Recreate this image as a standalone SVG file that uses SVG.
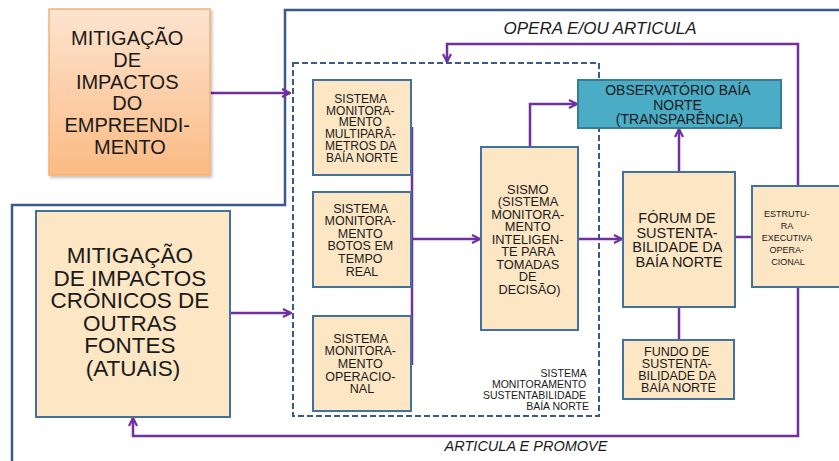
<svg xmlns="http://www.w3.org/2000/svg" width="839" height="461" viewBox="0 0 839 461">
  <defs>
    <linearGradient id="orangeFill" x1="0" y1="0" x2="0" y2="1">
      <stop offset="0" stop-color="#fde4cf"/>
      <stop offset="1" stop-color="#fbbb84"/>
    </linearGradient>
    <marker id="arrow" viewBox="0 0 10 10" refX="9" refY="5" markerWidth="10" markerHeight="10" markerUnits="userSpaceOnUse" orient="auto">
      <path d="M1,1 L9,5 L1,9" fill="none" stroke="#7030a0" stroke-width="2.2" stroke-linejoin="miter"/>
    </marker>
    <filter id="shadow" x="-10%" y="-10%" width="125%" height="125%">
      <feDropShadow dx="1.5" dy="2" stdDeviation="1.5" flood-color="#000" flood-opacity="0.25"/>
    </filter>
  </defs>
  <style>
    .box { fill: #fde6c4; stroke: #41719c; stroke-width: 2; }
    .obs { fill: #4bacc6; stroke: #357d93; stroke-width: 2; }
    .txt { font-family: "Liberation Sans", Arial, sans-serif; fill: #1a1a1a; text-anchor: middle; }
    .lbl { font-family: "Liberation Sans", Arial, sans-serif; fill: #1a1a1a; font-style: italic; text-anchor: middle; }
    .link { fill: none; stroke: #7030a0; stroke-width: 2.5; }
    .frame { fill: none; stroke: #3b5a8a; stroke-width: 2.5; }
  </style>

  <rect width="839" height="461" fill="#ffffff"/>

  <!-- outer frame line -->
  <path class="frame" d="M12,461 V205 H285 V10 H845"/>

  <!-- dashed group boundary -->
  <g id="sistema-monitoramento">
    <rect x="293" y="63" width="306" height="353" fill="none" stroke="#3b5a8a" stroke-width="2" stroke-dasharray="6,3"/>
    <text class="txt" font-size="10.5" style="text-anchor:end">
      <tspan x="589" y="377">SISTEMA</tspan>
      <tspan x="589" y="388">MONITORAMENTO</tspan>
      <tspan x="589" y="399">SUSTENTABILIDADE</tspan>
      <tspan x="589" y="410">BAÍA NORTE</tspan>
    </text>
  </g>

  <!-- connectors -->
  <g id="connectors">
    <path class="link" d="M210,93 H290" marker-end="url(#arrow)"/>
    <path class="link" d="M230,313 H291" marker-end="url(#arrow)"/>
    <path class="link" d="M798,187 V44 H447 V62" marker-end="url(#arrow)"/>
    <path class="link" d="M798,287 V436 H133 V418" marker-end="url(#arrow)"/>
    <path class="link" d="M412,127 V365"/>
    <path class="link" d="M412,239 H480" marker-end="url(#arrow)"/>
    <path class="link" d="M578,239 H622" marker-end="url(#arrow)"/>
    <path class="link" d="M530,147 V104 H577" marker-end="url(#arrow)"/>
    <path class="link" d="M679,172 V129" marker-end="url(#arrow)"/>
    <path class="link" d="M679,307 V340"/>
    <path class="link" d="M735,237 H752"/>
  </g>

  <g id="mitigacao-empreendimento">
    <rect x="49" y="9" width="161" height="166" fill="url(#orangeFill)" stroke="#f5b07a" stroke-width="1.5" filter="url(#shadow)"/>
    <text class="txt" font-size="20">
      <tspan x="130" y="45">MITIGAÇÃO</tspan>
      <tspan x="130" y="67">DE</tspan>
      <tspan x="130" y="89">IMPACTOS</tspan>
      <tspan x="130" y="110">DO</tspan>
      <tspan x="130" y="132">EMPREENDI-</tspan>
      <tspan x="130" y="154">MENTO</tspan>
    </text>
  </g>

  <g id="mitigacao-cronicos">
    <rect class="box" x="36" y="211" width="194" height="206"/>
    <text class="txt" font-size="22.5">
      <tspan x="133" y="263">MITIGAÇÃO</tspan>
      <tspan x="133" y="285.6">DE IMPACTOS</tspan>
      <tspan x="133" y="308.2">CRÔNICOS DE</tspan>
      <tspan x="133" y="330.8">OUTRAS</tspan>
      <tspan x="133" y="353.4">FONTES</tspan>
      <tspan x="133" y="376">(ATUAIS)</tspan>
    </text>
  </g>

  <g id="monitoramento-multiparametros">
    <rect class="box" x="313" y="80" width="98" height="95"/>
    <text class="txt" font-size="12">
      <tspan x="362" y="103">SISTEMA</tspan>
      <tspan x="362" y="114.7">MONITORA-</tspan>
      <tspan x="362" y="126.4">MENTO</tspan>
      <tspan x="362" y="138.1">MULTIPARÂ-</tspan>
      <tspan x="362" y="149.8">METROS DA</tspan>
      <tspan x="362" y="161.5">BAÍA NORTE</tspan>
    </text>
  </g>

  <g id="monitoramento-botos">
    <rect class="box" x="313" y="192" width="98" height="95"/>
    <text class="txt" font-size="12.5">
      <tspan x="362" y="212.5">SISTEMA</tspan>
      <tspan x="362" y="225.1">MONITORA-</tspan>
      <tspan x="362" y="237.7">MENTO</tspan>
      <tspan x="362" y="250.3">BOTOS EM</tspan>
      <tspan x="362" y="262.9">TEMPO</tspan>
      <tspan x="362" y="275.5">REAL</tspan>
    </text>
  </g>

  <g id="monitoramento-operacional">
    <rect class="box" x="313" y="316" width="98" height="95"/>
    <text class="txt" font-size="12.5">
      <tspan x="362" y="342.5">SISTEMA</tspan>
      <tspan x="362" y="355.2">MONITORA-</tspan>
      <tspan x="362" y="367.9">MENTO</tspan>
      <tspan x="362" y="380.6">OPERACIO-</tspan>
      <tspan x="362" y="393.3">NAL</tspan>
    </text>
  </g>

  <g id="sismo">
    <rect class="box" x="481" y="147" width="97" height="183"/>
    <text class="txt" font-size="12.8">
      <tspan x="529.5" y="193.5">SISMO</tspan>
      <tspan x="529.5" y="206">(SISTEMA</tspan>
      <tspan x="529.5" y="218.5">MONITORA-</tspan>
      <tspan x="529.5" y="231">MENTO</tspan>
      <tspan x="529.5" y="243.5">INTELIGEN-</tspan>
      <tspan x="529.5" y="256">TE PARA</tspan>
      <tspan x="529.5" y="268.5">TOMADAS</tspan>
      <tspan x="529.5" y="281">DE</tspan>
      <tspan x="529.5" y="293.5">DECISÃO)</tspan>
    </text>
  </g>

  <g id="observatorio">
    <rect class="obs" x="578" y="80" width="203" height="48"/>
    <text class="txt" font-size="14">
      <tspan x="679.5" y="95">OBSERVATÓRIO BAÍA</tspan>
      <tspan x="679.5" y="109.5">NORTE</tspan>
      <tspan x="679.5" y="124">(TRANSPARÊNCIA)</tspan>
    </text>
  </g>

  <g id="forum">
    <rect class="box" x="623" y="172" width="112" height="135"/>
    <text class="txt" font-size="14.5">
      <tspan x="679" y="223">FÓRUM DE</tspan>
      <tspan x="679" y="237.5">SUSTENTA-</tspan>
      <tspan x="679" y="252">BILIDADE DA</tspan>
      <tspan x="679" y="266.5">BAÍA NORTE</tspan>
    </text>
  </g>

  <g id="fundo">
    <rect class="box" x="623" y="340" width="111" height="59"/>
    <text class="txt" font-size="12.5">
      <tspan x="678.5" y="355.5">FUNDO DE</tspan>
      <tspan x="678.5" y="367.8">SUSTENTA-</tspan>
      <tspan x="678.5" y="380.1">BILIDADE DA</tspan>
      <tspan x="678.5" y="392.4">BAÍA NORTE</tspan>
    </text>
  </g>

  <g id="estrutura">
    <rect class="box" x="752" y="186" width="92" height="101"/>
    <text class="txt" font-size="9">
      <tspan x="788" y="216.5">ESTRUTU-</tspan>
      <tspan x="788" y="228.5">RA</tspan>
      <tspan x="788" y="240.5">EXECUTIVA</tspan>
      <tspan x="788" y="252.5">OPERA-</tspan>
      <tspan x="788" y="264.5">CIONAL</tspan>
    </text>
  </g>

  <!-- flow labels -->
  <text class="lbl" font-size="17" x="600" y="34">OPERA E/OU ARTICULA</text>
  <text class="lbl" font-size="14.5" x="526" y="451">ARTICULA E PROMOVE</text>
</svg>
